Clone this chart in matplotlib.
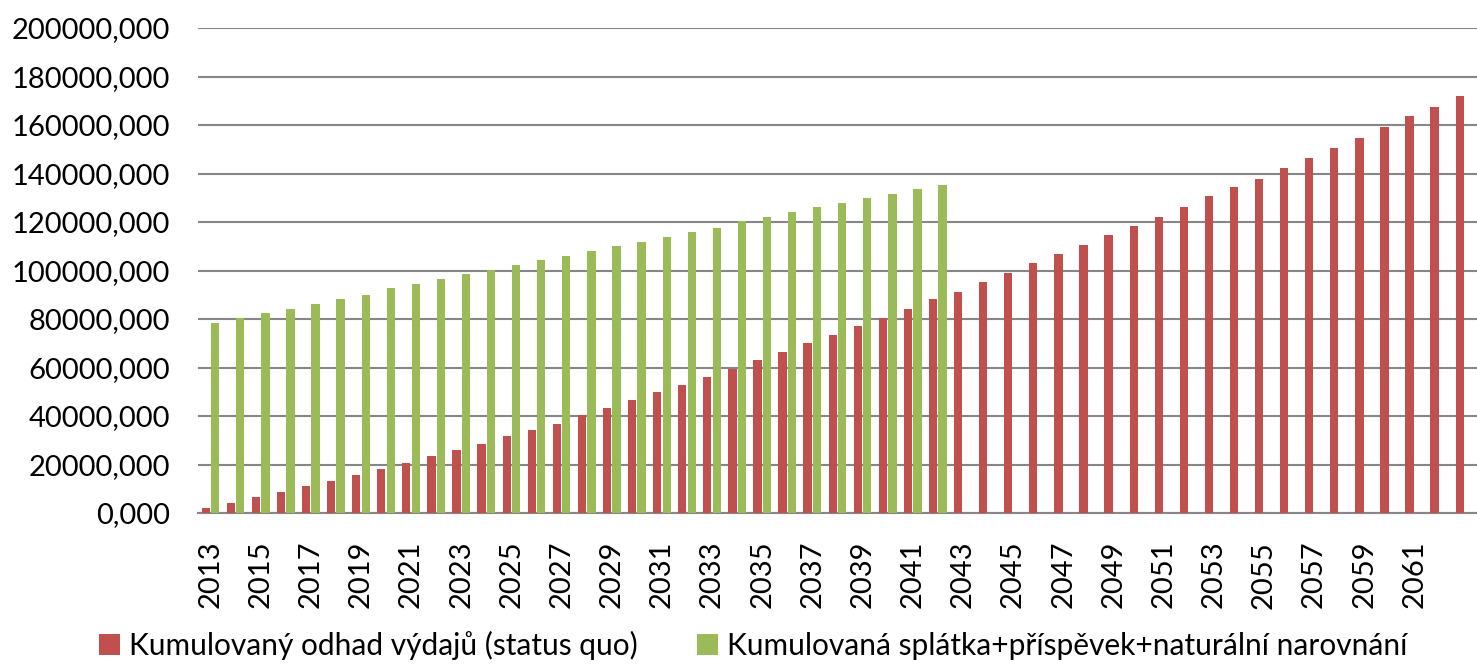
import numpy as np
import matplotlib.pyplot as plt
from matplotlib.ticker import FuncFormatter

# years 2013..2063
years = list(range(2013, 2064))
# cumulative expense estimate (status quo)
red_vals = [2200, 4100, 6700, 8700, 11300, 13200, 15700, 18300, 20700, 23400,
            26000, 28500, 31600, 34200, 36800, 40300, 43200, 46500, 49700, 52900,
            56100, 59300, 63200, 66400, 70200, 73400, 77200, 80300, 84200, 88100,
            91300, 95100, 99000, 102900, 106800, 110600, 114500, 118400, 122200, 126100,
            130600, 134300, 137900, 142400, 146300, 150600, 154500, 159000, 163600, 167400,
            172000]
# cumulative repayment+contribution, 2013..2042
green_vals = [78500, 80300, 82300, 84200, 86200, 88200, 90000, 92600, 94500, 96500,
              98400, 100300, 102300, 104200, 106100, 108000, 110000, 111900, 113800, 115700,
              117700, 120300, 122200, 124100, 126100, 128000, 129800, 131700, 133700, 135300]
red_label = "Kumulovaný odhad výdajů (status quo)"
green_label = "Kumulovaná splátka+příspěvek+naturální narovnání"

plt.rcParams['font.family'] = ['Lato', 'DejaVu Sans']

fig = plt.figure(figsize=(14.77, 6.64), dpi=100)
ax = fig.add_axes([0.134, 0.2274, 0.866, 0.7304])

x = np.arange(len(years))
xg = np.arange(len(green_vals))
w = 0.33
ax.bar(x - 0.19, red_vals, w, color="#C0504D", label=red_label, zorder=3)
ax.bar(xg + 0.19, green_vals, w, color="#9BBB59", label=green_label, zorder=3)

ax.set_xlim(-0.5, len(years) - 0.5)
ax.set_ylim(0, 200000)
ax.set_yticks(np.arange(0, 200001, 20000))
ax.yaxis.set_major_formatter(FuncFormatter(lambda v, p: f"{v:.3f}".replace(".", ",")))
ax.set_xticks(x[:-1:2])
ax.set_xticklabels([str(y) for y in years[:-1:2]], rotation=90)
ax.tick_params(axis='both', length=0, labelsize=21, colors="#000000")
ax.tick_params(axis='y', pad=20)
ax.tick_params(axis='x', pad=20)

ax.grid(axis='y', color="#868686", linewidth=1.5, zorder=0)
for s in ['top', 'right', 'left']:
    ax.spines[s].set_visible(False)
ax.spines['bottom'].set_color("#868686")
ax.spines['bottom'].set_linewidth(1.5)

fig.legend(loc='lower center', bbox_to_anchor=(0.51, -0.035), ncol=2, frameon=False,
           fontsize=21.5, handlelength=0.7, handleheight=0.7, handletextpad=0.3,
           columnspacing=2.0)

fig.savefig("out.png", dpi=100)
